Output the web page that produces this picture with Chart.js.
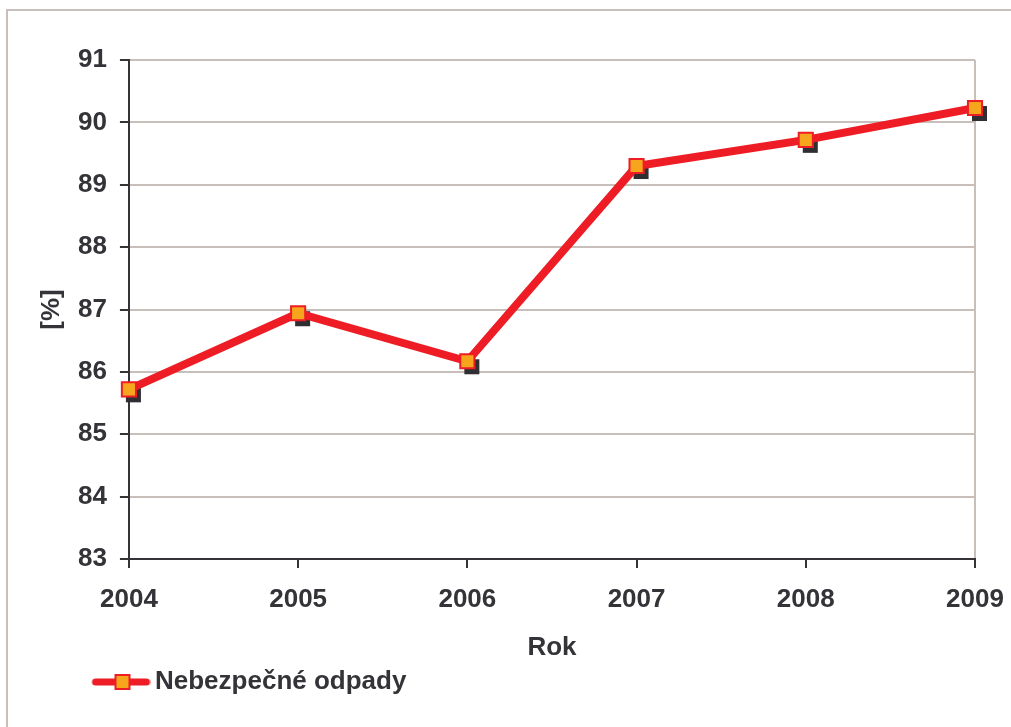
<!DOCTYPE html>
<html>
<head>
<meta charset="utf-8">
<script src="https://cdn.jsdelivr.net/npm/chart.js@4"></script>
<style>
  html, body { margin: 0; padding: 0; background: #fff; }
  #wrap { position: relative; width: 1011px; height: 727px; overflow: hidden; }
  #frame { position: absolute; left: 6px; top: 9px; width: 1100px; height: 800px; border: 2px solid #c8bfbb; }
  #c { position: absolute; left: 0; top: 0; }
</style>
</head>
<body>
<div id="wrap">
  <div id="frame"></div>
  <canvas id="c" width="1011" height="727"></canvas>
</div>
<script>
// ====== DATA ======
const YEARS = ["2004", "2005", "2006", "2007", "2008", "2009"];
const HAZARDOUS = [85.72, 86.94, 86.17, 89.30, 89.72, 90.23];
const SERIES_LABEL = "Nebezpečné odpady";
const Y_TITLE = "[%]";
const X_TITLE = "Rok";
const Y_MIN = 83, Y_MAX = 91;

const RED = "#ee1d25";
const ORANGE = "#f7a51c";
const SHADOW = "#2f2f33";
const GRID = "#c8bfbb";
const TEXT = "#333338";
const FONT = "'Liberation Sans', Arial, sans-serif";
const FS = 26;

// legend icon: line with marker, drawn wider than its box so it sits where the original does
function legendIcon() {
  const cv = document.createElement("canvas");
  cv.width = 134; cv.height = 20;
  const ctx = cv.getContext("2d");
  ctx.strokeStyle = RED;
  ctx.lineWidth = 7;
  ctx.lineCap = "round";
  ctx.beginPath();
  ctx.moveTo(79, 10);
  ctx.lineTo(130, 10);
  ctx.stroke();
  ctx.fillStyle = ORANGE;
  ctx.strokeStyle = RED;
  ctx.lineWidth = 2;
  ctx.fillRect(99, 3, 14, 14);
  ctx.strokeRect(99, 3, 14, 14);
  return cv;
}

// dark offset squares behind each marker
const markerShadow = {
  id: "markerShadow",
  beforeDatasetsDraw(chart) {
    const meta = chart.getDatasetMeta(0);
    const ctx = chart.ctx;
    ctx.save();
    ctx.fillStyle = SHADOW;
    meta.data.forEach(pt => {
      ctx.fillRect(pt.x - 7 + 4, pt.y - 7 + 5, 15, 15);
    });
    ctx.restore();
  }
};

new Chart(document.getElementById("c"), {
  type: "line",
  data: {
    labels: YEARS,
    datasets: [{
      label: SERIES_LABEL,
      data: HAZARDOUS,
      borderColor: RED,
      borderWidth: 8,
      tension: 0,
      pointStyle: "rect",
      pointRadius: 10,
      pointHoverRadius: 10,
      pointBackgroundColor: ORANGE,
      pointBorderColor: RED,
      pointBorderWidth: 2
    }]
  },
  options: {
    responsive: false,
    animation: false,
    layout: { padding: { left: 17, right: 36, top: 60, bottom: 22 } },
    plugins: {
      tooltip: { enabled: false },
      legend: {
        position: "bottom",
        align: "start",
        labels: {
          usePointStyle: true,
          pointStyleWidth: 117,
          padding: 8,
          color: TEXT,
          font: { family: FONT, size: FS, weight: "bold", lineHeight: 1 },
          generateLabels: () => [{
            text: SERIES_LABEL,
            pointStyle: legendIcon(),
            fillStyle: ORANGE,
            strokeStyle: RED,
            lineWidth: 0,
            fontColor: TEXT,
            datasetIndex: 0
          }]
        }
      }
    },
    scales: {
      x: {
        offset: false,
        afterFit: (scale) => { scale.paddingRight = 30; },
        border: { color: TEXT, width: 2 },
        grid: {
          drawOnChartArea: true,
          color: (c) => c.index === YEARS.length - 1 ? GRID : "rgba(0,0,0,0)",
          lineWidth: 2,
          tickColor: TEXT,
          tickLength: 9
        },
        ticks: { color: TEXT, padding: 19, font: { family: FONT, size: FS, weight: "bold", lineHeight: 1 }, maxRotation: 0 },
        title: {
          display: true, text: X_TITLE, color: TEXT,
          font: { family: FONT, size: FS, weight: "bold", lineHeight: 1 },
          padding: { top: 3, bottom: 0 }
        }
      },
      y: {
        min: Y_MIN, max: Y_MAX,
        border: { color: TEXT, width: 2 },
        grid: { color: GRID, lineWidth: 2, tickColor: TEXT, tickLength: 9 },
        ticks: { stepSize: 1, color: TEXT, padding: 13, font: { family: FONT, size: FS, weight: "bold", lineHeight: 1 } },
        title: {
          display: true, text: Y_TITLE, color: TEXT,
          font: { family: FONT, size: FS, weight: "bold", lineHeight: 1 },
          padding: { top: 22, bottom: 0 }
        }
      }
    }
  },
  plugins: [markerShadow]
});
</script>
</body>
</html>
